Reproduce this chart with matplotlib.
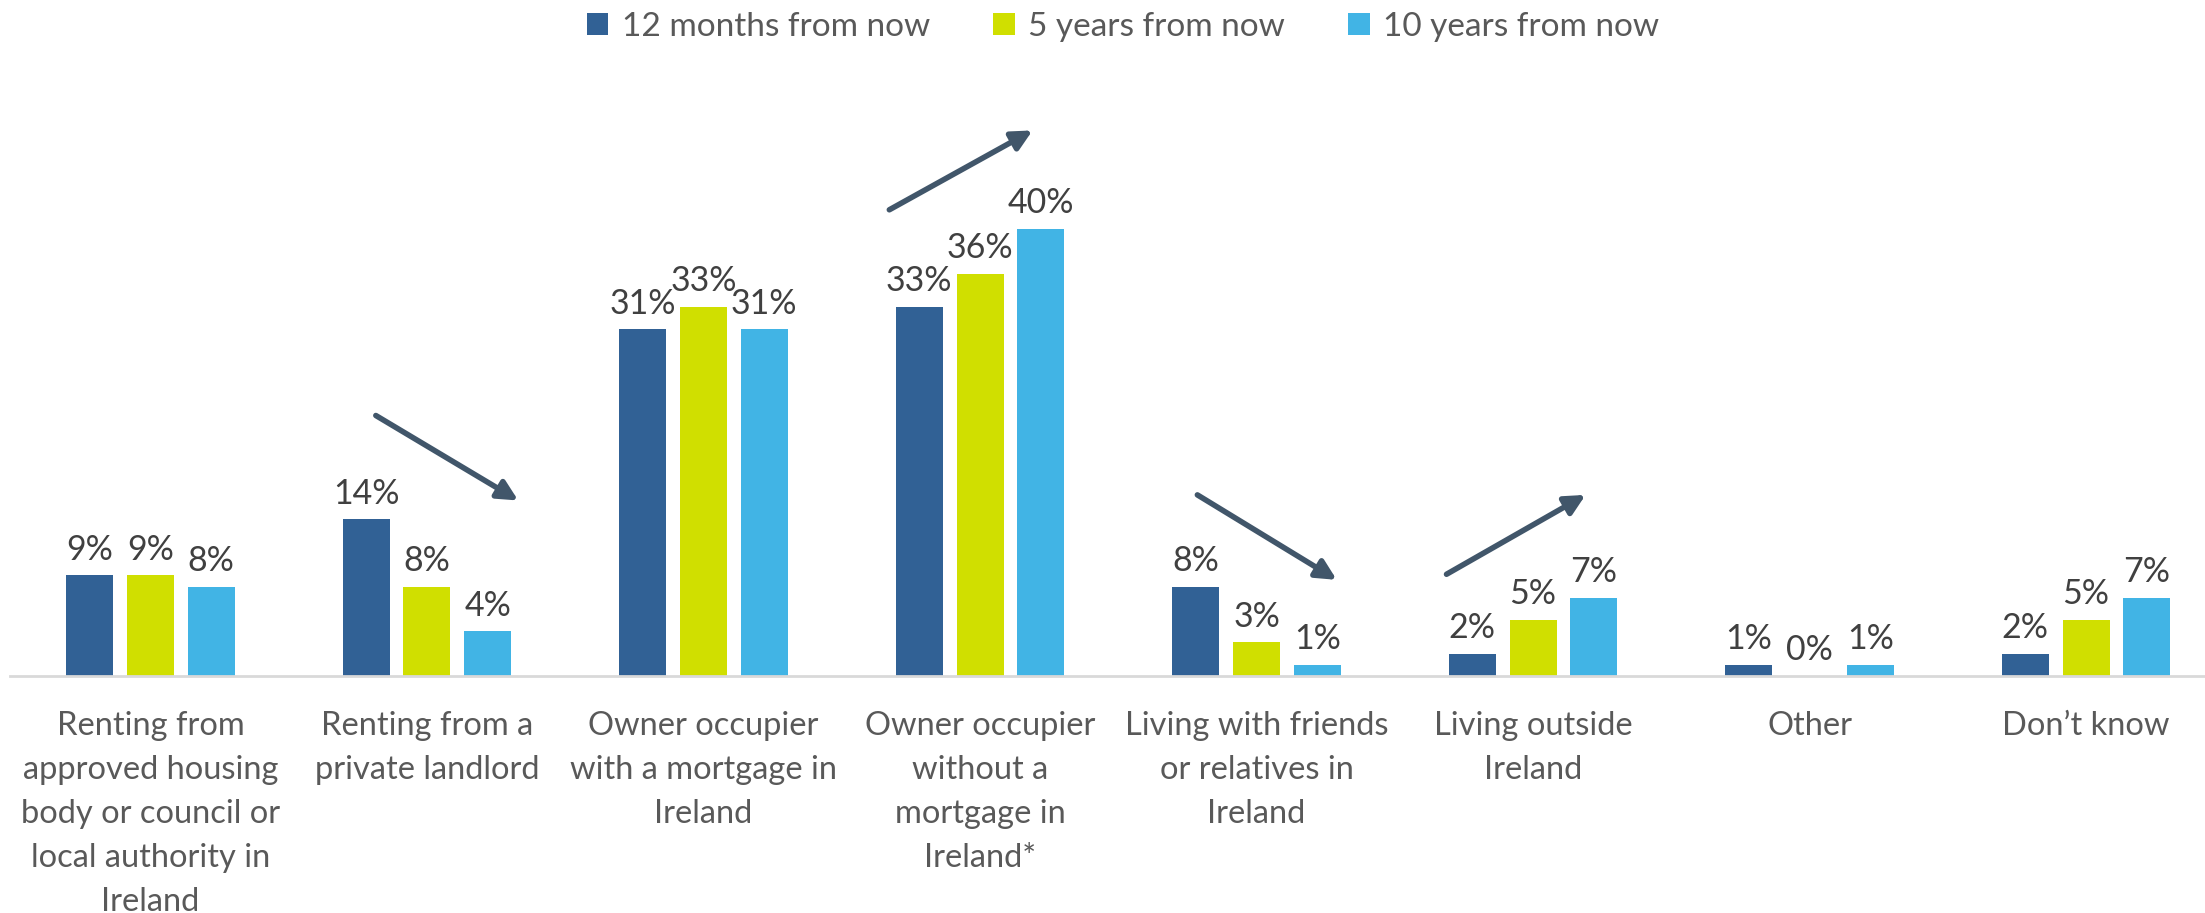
""" Housing expectations chart """
import matplotlib
matplotlib.use("Agg")
import matplotlib.pyplot as plt
import numpy as np

plt.rcParams["font.family"] = ["Lato", "DejaVu Sans"]

categories = [
  "Renting from\napproved housing\nbody or council or\nlocal authority in\nIreland",
  "Renting from a\nprivate landlord",
  "Owner occupier\nwith a mortgage in\nIreland",
  "Owner occupier\nwithout a\nmortgage in\nIreland*",
  "Living with friends\nor relatives in\nIreland",
  "Living outside\nIreland",
  "Other",
  "Don\u2019t know",
]
series_names = ["12 months from now", "5 years from now", "10 years from now"]
months_12 = [9, 14, 31, 33, 8, 2, 1, 2]
years_5 = [9, 8, 33, 36, 3, 5, 0, 5]
years_10 = [8, 4, 31, 40, 1, 7, 1, 7]
colors = ["#316195", "#D0DF00", "#41B4E5"]

# trend arrows: (start, end) in data coords
trend_arrows = [
  ((0.815, 23.3), (1.33, 15.7)),
  ((2.672, 41.7), (3.19, 48.8)),
  ((3.786, 16.2), (4.29, 8.6)),
  ((4.687, 9.1), (5.19, 16.2)),
]

fig = plt.figure(figsize=(22.05, 9.13), dpi=100)
ax = fig.add_axes([10 / 2205, 237 / 913, 2195 / 2205, 559 / 913])

x = np.arange(len(categories))
step = 0.22
width = 0.17
for i, (name, vals) in enumerate(zip(series_names, [months_12, years_5, years_10])):
  bars = ax.bar(x + (i - 1) * step, vals, width, color=colors[i], label=name)
  ax.bar_label(bars, labels=[f"{v}%" for v in vals], padding=7,
               fontsize=24.5, color="#404040")

for (x0, y0), (x1, y1) in trend_arrows:
  ax.annotate("", xy=(x1, y1), xytext=(x0, y0), annotation_clip=False,
              arrowprops=dict(arrowstyle="-|>", color="#41566A", lw=4,
                              mutation_scale=30, shrinkA=0, shrinkB=0))

ax.set_xlim(-0.508, 7.43)
ax.set_ylim(0, 50)
ax.set_xticks(x, categories, fontsize=23.5, color="#595959", linespacing=1.59)
ax.tick_params(axis="x", length=0, pad=25)
ax.set_yticks([])
for side in ["top", "right", "left"]:
  ax.spines[side].set_visible(False)
ax.spines["bottom"].set_color("#D9D9D9")
ax.spines["bottom"].set_linewidth(2)

fig.legend(loc="center", bbox_to_anchor=(1123 / 2205, 1 - 27 / 913), ncol=3,
           frameon=False, fontsize=24, labelcolor="#595959",
           handlelength=0.65, handleheight=0.65, handletextpad=0.4,
           columnspacing=1.9)

fig.savefig("out.png", dpi=100)
